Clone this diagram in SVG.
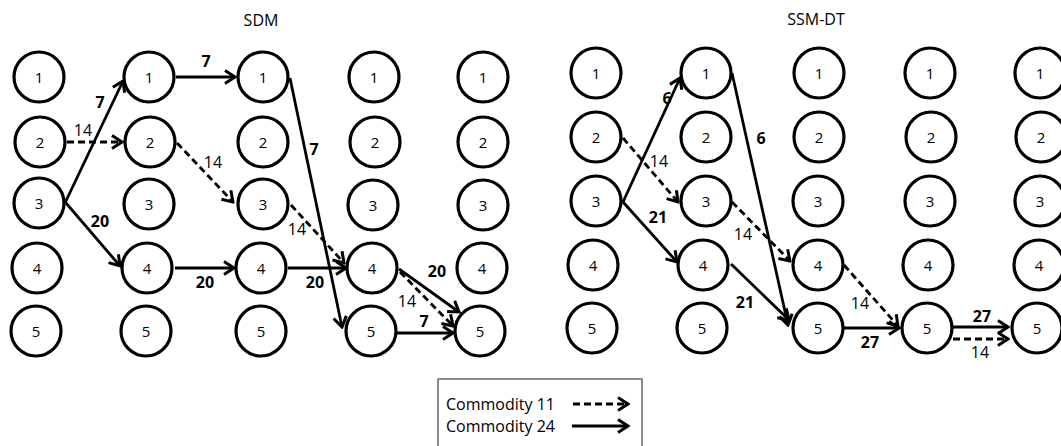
<svg xmlns="http://www.w3.org/2000/svg" width="1061" height="446" viewBox="0 0 1061 446">
<style>
.n circle{fill:#fff;stroke:#000;stroke-width:3.2}
.n text{font-family:"Open Sans","Liberation Sans",sans-serif;font-size:15px;text-anchor:middle;fill:#000}
.t{font-family:"Open Sans","Liberation Sans",sans-serif;font-size:16px;text-anchor:middle;fill:#000}
.e{fill:none;stroke:#000;stroke-width:2.8;marker-end:url(#ah)}
.d{stroke-dasharray:7 4}
.lb{font-family:"Open Sans","Liberation Sans",sans-serif;font-size:16px;text-anchor:middle;fill:#000}
.b{font-weight:bold}
.lg{font-family:"Open Sans","Liberation Sans",sans-serif;font-size:16px;fill:#000}
</style>
<defs>
<marker id="ah" viewBox="-13 -9 15 18" refX="0" refY="0" markerWidth="15" markerHeight="18" markerUnits="userSpaceOnUse" orient="auto">
<path d="M-10,-6.5 L0,0 L-10,6.5" fill="none" stroke="#000" stroke-width="3"/>
</marker>
</defs>
<rect width="1061" height="446" fill="#fff"/>
<text class="t" x="261" y="26">SDM</text>
<text class="t" x="816" y="25">SSM-DT</text>

<g id="connectors">
<line class="e" x1="65" y1="203" x2="123" y2="81"/>
<line class="e d" x1="67" y1="142" x2="122" y2="142"/>
<line class="e" x1="66" y1="203" x2="120" y2="266"/>
<line class="e" x1="176" y1="77" x2="235" y2="77"/>
<line class="e d" x1="177" y1="143" x2="233" y2="202"/>
<line class="e" x1="175" y1="268" x2="234" y2="268"/>
<line class="e" x1="290" y1="78" x2="342" y2="327"/>
<line class="e d" x1="291" y1="205" x2="344" y2="263"/>
<line class="e" x1="288" y1="268" x2="346" y2="268"/>
<line class="e" x1="399" y1="269" x2="459" y2="312"/>
<line class="e d" x1="400" y1="272" x2="453" y2="326"/>
<line class="e" x1="397" y1="333" x2="453" y2="333"/>

<line class="e" x1="623" y1="202" x2="680" y2="78"/>
<line class="e d" x1="623" y1="138" x2="678" y2="202"/>
<line class="e" x1="623" y1="202" x2="677" y2="262"/>
<line class="e" x1="732" y1="73" x2="788" y2="325"/>
<line class="e d" x1="732" y1="202" x2="790" y2="261"/>
<line class="e" x1="731" y1="264" x2="789" y2="320"/>
<line class="e d" x1="844" y1="265" x2="898" y2="326"/>
<line class="e" x1="844" y1="328" x2="899" y2="328"/>
<line class="e" x1="953" y1="327" x2="1008" y2="327"/>
<line class="e d" x1="953" y1="339" x2="1008" y2="339"/>

<text class="lb b" x="100" y="108">7</text>
<text class="lb" x="83" y="136">14</text>
<text class="lb b" x="100" y="227">20</text>
<text class="lb b" x="206" y="67">7</text>
<text class="lb" x="213" y="168">14</text>
<text class="lb b" x="205" y="288">20</text>
<text class="lb b" x="314" y="155">7</text>
<text class="lb" x="297" y="235">14</text>
<text class="lb b" x="315" y="288">20</text>
<text class="lb b" x="437" y="277">20</text>
<text class="lb" x="407" y="307">14</text>
<text class="lb b" x="424" y="327">7</text>

<text class="lb b" x="667" y="104">6</text>
<text class="lb" x="659" y="167">14</text>
<text class="lb b" x="658" y="223">21</text>
<text class="lb b" x="761" y="144">6</text>
<text class="lb" x="743" y="240">14</text>
<text class="lb b" x="745" y="308">21</text>
<text class="lb" x="860" y="309">14</text>
<text class="lb b" x="870" y="348">27</text>
<text class="lb b" x="982" y="322">27</text>
<text class="lb" x="980" y="358">14</text>
</g>

<g id="sdm-1-1" class="n"><circle cx="39" cy="77" r="25"/><text x="39" y="82.5">1</text></g>
<g id="sdm-1-2" class="n"><circle cx="40" cy="142" r="25"/><text x="40" y="147.5">2</text></g>
<g id="sdm-1-3" class="n"><circle cx="39" cy="203" r="25"/><text x="39" y="208.5">3</text></g>
<g id="sdm-1-4" class="n"><circle cx="37" cy="268" r="25"/><text x="37" y="273.5">4</text></g>
<g id="sdm-1-5" class="n"><circle cx="36" cy="331" r="25"/><text x="36" y="336.5">5</text></g>

<g id="sdm-2-1" class="n"><circle cx="149" cy="77" r="25"/><text x="149" y="82.5">1</text></g>
<g id="sdm-2-2" class="n"><circle cx="150" cy="142" r="25"/><text x="150" y="147.5">2</text></g>
<g id="sdm-2-3" class="n"><circle cx="149" cy="204" r="25"/><text x="149" y="209.5">3</text></g>
<g id="sdm-2-4" class="n"><circle cx="147" cy="268" r="25"/><text x="147" y="273.5">4</text></g>
<g id="sdm-2-5" class="n"><circle cx="146" cy="331" r="25"/><text x="146" y="336.5">5</text></g>

<g id="sdm-3-1" class="n"><circle cx="263" cy="77" r="25"/><text x="263" y="82.5">1</text></g>
<g id="sdm-3-2" class="n"><circle cx="263" cy="142" r="25"/><text x="263" y="147.5">2</text></g>
<g id="sdm-3-3" class="n"><circle cx="263" cy="204" r="25"/><text x="263" y="209.5">3</text></g>
<g id="sdm-3-4" class="n"><circle cx="261" cy="268" r="25"/><text x="261" y="273.5">4</text></g>
<g id="sdm-3-5" class="n"><circle cx="261" cy="331" r="25"/><text x="261" y="336.5">5</text></g>

<g id="sdm-4-1" class="n"><circle cx="374" cy="77" r="25"/><text x="374" y="82.5">1</text></g>
<g id="sdm-4-2" class="n"><circle cx="375" cy="142" r="25"/><text x="375" y="147.5">2</text></g>
<g id="sdm-4-3" class="n"><circle cx="373" cy="205" r="25"/><text x="373" y="210.5">3</text></g>
<g id="sdm-4-4" class="n"><circle cx="372" cy="268" r="25"/><text x="372" y="273.5">4</text></g>
<g id="sdm-4-5" class="n"><circle cx="371" cy="331" r="25"/><text x="371" y="336.5">5</text></g>

<g id="sdm-5-1" class="n"><circle cx="483" cy="77" r="25"/><text x="483" y="82.5">1</text></g>
<g id="sdm-5-2" class="n"><circle cx="483" cy="142" r="25"/><text x="483" y="147.5">2</text></g>
<g id="sdm-5-3" class="n"><circle cx="483" cy="205" r="25"/><text x="483" y="210.5">3</text></g>
<g id="sdm-5-4" class="n"><circle cx="482" cy="268" r="25"/><text x="482" y="273.5">4</text></g>
<g id="sdm-5-5" class="n"><circle cx="480" cy="331" r="25"/><text x="480" y="336.5">5</text></g>

<g id="ssm-1-1" class="n"><circle cx="596" cy="73" r="25"/><text x="596" y="78.5">1</text></g>
<g id="ssm-1-2" class="n"><circle cx="596" cy="137" r="25"/><text x="596" y="142.5">2</text></g>
<g id="ssm-1-3" class="n"><circle cx="596" cy="201" r="25"/><text x="596" y="206.5">3</text></g>
<g id="ssm-1-4" class="n"><circle cx="593" cy="265" r="25"/><text x="593" y="270.5">4</text></g>
<g id="ssm-1-5" class="n"><circle cx="592" cy="328" r="25"/><text x="592" y="333.5">5</text></g>

<g id="ssm-2-1" class="n"><circle cx="706" cy="73" r="25"/><text x="706" y="78.5">1</text></g>
<g id="ssm-2-2" class="n"><circle cx="706" cy="137" r="25"/><text x="706" y="142.5">2</text></g>
<g id="ssm-2-3" class="n"><circle cx="706" cy="201" r="25"/><text x="706" y="206.5">3</text></g>
<g id="ssm-2-4" class="n"><circle cx="703" cy="265" r="25"/><text x="703" y="270.5">4</text></g>
<g id="ssm-2-5" class="n"><circle cx="702" cy="328" r="25"/><text x="702" y="333.5">5</text></g>

<g id="ssm-3-1" class="n"><circle cx="819" cy="73" r="25"/><text x="819" y="78.5">1</text></g>
<g id="ssm-3-2" class="n"><circle cx="819" cy="137" r="25"/><text x="819" y="142.5">2</text></g>
<g id="ssm-3-3" class="n"><circle cx="818" cy="201" r="25"/><text x="818" y="206.5">3</text></g>
<g id="ssm-3-4" class="n"><circle cx="818" cy="265" r="25"/><text x="818" y="270.5">4</text></g>
<g id="ssm-3-5" class="n"><circle cx="818" cy="328" r="25"/><text x="818" y="333.5">5</text></g>

<g id="ssm-4-1" class="n"><circle cx="930" cy="73" r="25"/><text x="930" y="78.5">1</text></g>
<g id="ssm-4-2" class="n"><circle cx="931" cy="137" r="25"/><text x="931" y="142.5">2</text></g>
<g id="ssm-4-3" class="n"><circle cx="930" cy="201" r="25"/><text x="930" y="206.5">3</text></g>
<g id="ssm-4-4" class="n"><circle cx="928" cy="265" r="25"/><text x="928" y="270.5">4</text></g>
<g id="ssm-4-5" class="n"><circle cx="927" cy="328" r="25"/><text x="927" y="333.5">5</text></g>

<g id="ssm-5-1" class="n"><circle cx="1040" cy="73" r="25"/><text x="1040" y="78.5">1</text></g>
<g id="ssm-5-2" class="n"><circle cx="1041" cy="137" r="25"/><text x="1041" y="142.5">2</text></g>
<g id="ssm-5-3" class="n"><circle cx="1040" cy="201" r="25"/><text x="1040" y="206.5">3</text></g>
<g id="ssm-5-4" class="n"><circle cx="1039" cy="265" r="25"/><text x="1039" y="270.5">4</text></g>
<g id="ssm-5-5" class="n"><circle cx="1037" cy="328" r="25"/><text x="1037" y="333.5">5</text></g>

<g id="legend">
<rect x="438" y="379" width="204" height="80" fill="#fff" stroke="#666" stroke-width="1.5"/>
<text class="lg" x="446" y="410">Commodity 11</text>
<text class="lg" x="446" y="432">Commodity 24</text>
<line class="e d" x1="573" y1="404" x2="628" y2="404"/>
<line class="e" x1="572" y1="426" x2="628" y2="426"/>
</g>
</svg>
